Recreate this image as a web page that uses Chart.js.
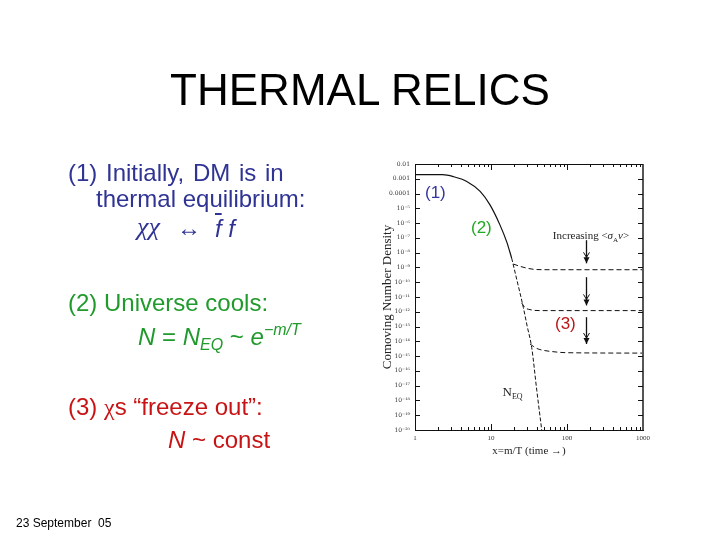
<!DOCTYPE html>
<html>
<head>
<meta charset="utf-8">
<script src="https://cdn.jsdelivr.net/npm/chart.js@4.4.0/dist/chart.umd.min.js"></script>
<style>
    html, body { margin: 0; padding: 0; background: #fff; }
    #slide { position: relative; width: 720px; height: 540px; overflow: hidden; font-family: "Liberation Sans", Arial, sans-serif; }
    #plot { position: absolute; left: 0; top: 0; }
    .t { position: absolute; white-space: nowrap; line-height: 1; }
    .blue { color: #2f3393; }
    .green { color: #1f9a2b; }
    .red { color: #c81414; }
    .sym { font-family: "Liberation Serif", "DejaVu Serif", serif; }
    .lo { position: relative; top: 5px; font-size: 16px; }
    .hi { position: relative; top: -10px; font-size: 16px; }
</style>
</head>
<body>
<div id="slide">
    <canvas id="plot" width="720" height="540"></canvas>

    <div class="t" style="left:0;width:720px;text-align:center;top:68px;font-size:44px;color:#000;">THERMAL RELICS</div>

    <div class="t blue" style="left:68px;top:161px;font-size:24px;word-spacing:2px;">(1) Initially, DM is in</div>
    <div class="t blue" style="left:96px;top:187px;font-size:24px;">thermal equilibrium:</div>
    <div class="t blue sym" style="left:137px;top:214px;font-size:26px;font-style:italic;">&#967;&#967;</div>
    <div class="t blue" style="left:177px;top:216px;font-size:24px;">&#8596;</div>
    <div class="t blue" style="left:215px;top:217px;font-size:24px;font-style:italic;"><span style="text-decoration:overline;">f</span>&nbsp;f</div>

    <div class="t green" style="left:68px;top:291px;font-size:24px;">(2) Universe cools:</div>
    <div class="t green" style="left:138px;top:325px;font-size:24px;"><i>N</i> = <i>N</i><i class="lo">EQ</i> ~ <i>e</i><i class="hi">&#8722;m/T</i></div>

    <div class="t red" style="left:68px;top:395px;font-size:24px;">(3) <span class="sym">&#967;</span>s &#8220;freeze out&#8221;:</div>
    <div class="t red" style="left:168px;top:428px;font-size:24px;"><i>N</i> ~ const</div>

    <div class="t" style="left:16px;top:517px;font-size:12px;color:#000;">23 September&nbsp; 05</div>

    <div class="t" style="left:425px;top:184px;font-size:17px;color:#3535a0;">(1)</div>
    <div class="t" style="left:471px;top:219px;font-size:17px;color:#22aa22;">(2)</div>
    <div class="t" style="left:555px;top:315px;font-size:17px;color:#bb1515;">(3)</div>
</div>
<script>
// equilibrium abundance (solid while in equilibrium, dashed N_EQ afterwards)
const eqX = [1, 2.3, 3.2, 4.8, 7.2, 9.7, 13.1, 16.1, 18.7, 22, 26.6, 30, 34.3, 40, 46.5];
const eqY = [1.9e-3, 1.9e-3, 1.4e-3, 6.6e-4, 1.4e-4, 1.7e-5, 7.6e-7, 5.4e-8, 4.3e-9, 1.3e-10, 2e-12, 1e-13, 3.9e-15, 5e-18, 1e-20];
const freezeIdx = 8;

// freeze-out branches, weakest to strongest <sigma v>
const topX = [19.6, 24, 29.5, 40, 70, 1000];
const topY = [1.7e-9, 1.2e-9, 9e-10, 7.2e-10, 7e-10, 7e-10];
const midX = [25.3, 28, 32.6, 44, 1000];
const midY = [4e-12, 1.9e-12, 1.4e-12, 1.2e-12, 1.2e-12];
const botX = [32.6, 36, 40, 46.4, 60, 100, 1000];
const botY = [6.6e-15, 4.6e-15, 3.3e-15, 2.6e-15, 2.1e-15, 1.7e-15, 1.6e-15];

// axis ticks
const xTicks = [1, 10, 100, 1000];
const yTicks = [1e-2, 1e-3, 1e-4, 1e-5, 1e-6, 1e-7, 1e-8, 1e-9, 1e-10, 1e-11, 1e-12, 1e-13, 1e-14, 1e-15, 1e-16, 1e-17, 1e-18, 1e-19, 1e-20];

// "increasing <sigma v>" arrows
const arrowX = 180;
const arrowTop = [7e-8, 2.2e-10, 4.3e-13];
const arrowBottom = [1.9e-9, 2.7e-12, 6.6e-15];
const sigmaLabelAt = { x: 207, y: 1.5e-7 };
const nEqLabelAt = { x: 14.2, y: 2e-18 };

function pts(xs, ys) {
    return xs.map((x, i) => ({ x: x, y: ys[i] }));
}

const SUP = { '0': '\u2070', '1': '\u00b9', '2': '\u00b2', '3': '\u00b3', '4': '\u2074', '5': '\u2075', '6': '\u2076', '7': '\u2077', '8': '\u2078', '9': '\u2079', '-': '\u207b' };

function yLabel(v) {
    const e = Math.round(Math.log10(v));
    if (e >= -2) return '0.01';
    if (e === -3) return '0.001';
    if (e === -4) return '0.0001';
    return '10' + String(e).split('').map(c => SUP[c]).join('');
}

const lineStyle = {
    borderColor: '#111',
    borderWidth: 1,
    pointRadius: 0,
    fill: false,
    cubicInterpolationMode: 'monotone'
};

const framePlugin = {
    id: 'frame',
    afterDatasetsDraw(chart) {
        const ctx = chart.ctx;
        const a = chart.chartArea;
        const xs = chart.scales.x;
        const ys = chart.scales.y;
        ctx.save();
        ctx.strokeStyle = '#111';
        ctx.lineWidth = 1;
        ctx.beginPath();
        ctx.moveTo(a.left, a.top + 0.5);
        ctx.lineTo(a.right, a.top + 0.5);
        ctx.stroke();
        ctx.strokeStyle = '#555';
        ctx.lineWidth = 2;
        ctx.beginPath();
        ctx.moveTo(a.right, a.top);
        ctx.lineTo(a.right, a.bottom);
        ctx.stroke();

        // inward ticks
        ctx.strokeStyle = '#111';
        ctx.lineWidth = 1;
        ctx.beginPath();
        for (let d = 1; d < 1000; d *= 10) {
            for (let m = 1; m <= 9; m++) {
                const px = Math.round(xs.getPixelForValue(d * m)) + 0.5;
                const len = m === 1 ? 6 : 3;
                ctx.moveTo(px, a.bottom); ctx.lineTo(px, a.bottom - len);
                ctx.moveTo(px, a.top); ctx.lineTo(px, a.top + len);
            }
        }
        yTicks.forEach(v => {
            const py = Math.round(ys.getPixelForValue(v)) + 0.5;
            ctx.moveTo(a.left, py); ctx.lineTo(a.left + 5, py);
            ctx.moveTo(a.right, py); ctx.lineTo(a.right - 5, py);
        });
        ctx.stroke();

        // arrows
        const ax = Math.round(xs.getPixelForValue(arrowX)) + 0.5;
        ctx.fillStyle = '#111';
        arrowTop.forEach((t, i) => {
            const y0 = ys.getPixelForValue(t);
            const y1 = ys.getPixelForValue(arrowBottom[i]);
            ctx.lineWidth = 1.3;
            ctx.beginPath();
            ctx.moveTo(ax, y0); ctx.lineTo(ax, y1);
            ctx.stroke();
            ctx.beginPath();
            ctx.moveTo(ax - 3, y1 - 6); ctx.lineTo(ax, y1); ctx.lineTo(ax + 3, y1 - 6);
            ctx.closePath();
            ctx.fill();
            ctx.lineWidth = 1;
            ctx.beginPath();
            ctx.moveTo(ax - 3, y1 - 11); ctx.lineTo(ax, y1 - 6); ctx.lineTo(ax + 3, y1 - 11);
            ctx.stroke();
        });

        // Increasing <sigma_A v>
        const parts = [
            ['Increasing <', '11px "Liberation Serif", serif', 0],
            ['\u03c3', 'italic 11px "Liberation Serif", serif', 0],
            ['A', '7px "Liberation Serif", serif', 3],
            ['v', 'italic 11px "Liberation Serif", serif', 0],
            ['>', '11px "Liberation Serif", serif', 0]
        ];
        let w = 0;
        parts.forEach(p => { ctx.font = p[1]; w += ctx.measureText(p[0]).width; });
        let tx = xs.getPixelForValue(sigmaLabelAt.x) - w / 2;
        const ty = ys.getPixelForValue(sigmaLabelAt.y) + 4;
        ctx.fillStyle = '#222';
        ctx.textBaseline = 'alphabetic';
        parts.forEach(p => {
            ctx.font = p[1];
            ctx.fillText(p[0], tx, ty + p[2]);
            tx += ctx.measureText(p[0]).width;
        });

        // N_EQ label
        const nx = xs.getPixelForValue(nEqLabelAt.x);
        const ny = ys.getPixelForValue(nEqLabelAt.y);
        ctx.font = '13px "Liberation Serif", serif';
        ctx.fillText('N', nx, ny);
        const nw = ctx.measureText('N').width;
        ctx.font = '8px "Liberation Serif", serif';
        ctx.fillText('EQ', nx + nw, ny + 3);
        ctx.restore();
    }
};

const ctx = document.getElementById('plot').getContext('2d');
new Chart(ctx, {
    type: 'line',
    data: {
        datasets: [
            Object.assign({ data: pts(eqX.slice(0, freezeIdx + 1), eqY.slice(0, freezeIdx + 1)) }, lineStyle, { borderWidth: 1.2 }),
            Object.assign({ data: pts(eqX.slice(freezeIdx), eqY.slice(freezeIdx)), borderDash: [4, 2] }, lineStyle),
            Object.assign({ data: pts(topX, topY), borderDash: [5, 3] }, lineStyle),
            Object.assign({ data: pts(midX, midY), borderDash: [5, 3] }, lineStyle),
            Object.assign({ data: pts(botX, botY), borderDash: [5, 3] }, lineStyle)
        ]
    },
    options: {
        responsive: false,
        animation: false,
        layout: {
            padding: { left: 375, right: 77, top: 164, bottom: 80 }
        },
        plugins: {
            legend: { display: false },
            tooltip: { enabled: false }
        },
        scales: {
            x: {
                type: 'logarithmic',
                min: 1,
                max: 1000,
                grid: { display: false, drawTicks: false },
                border: { display: true, color: '#111', width: 1 },
                afterBuildTicks: function(scale) {
                    scale.ticks = xTicks.map(v => ({ value: v }));
                },
                afterFit: function(scale) {
                    scale.height = 30;
                },
                ticks: {
                    autoSkip: false,
                    maxRotation: 0,
                    padding: 4,
                    color: '#333',
                    font: { family: '"Liberation Serif", serif', size: 7 },
                    callback: function(value) {
                        return String(value);
                    }
                },
                title: {
                    display: true,
                    text: 'x=m/T (time \u2192)',
                    color: '#222',
                    font: { family: '"Liberation Serif", serif', size: 11 },
                    padding: { top: 0, bottom: 2 }
                }
            },
            y: {
                type: 'logarithmic',
                min: 1e-20,
                max: 1e-2,
                grid: { display: false, drawTicks: false },
                border: { display: true, color: '#111', width: 1 },
                afterBuildTicks: function(scale) {
                    scale.ticks = yTicks.map(v => ({ value: v }));
                },
                afterFit: function(scale) {
                    scale.width = 40;
                },
                ticks: {
                    autoSkip: false,
                    padding: 5,
                    color: '#333',
                    font: { family: '"DejaVu Serif", serif', size: 6 },
                    callback: function(value) {
                        return yLabel(value);
                    }
                },
                title: {
                    display: true,
                    text: 'Comoving Number Density',
                    color: '#222',
                    font: { family: '"Liberation Serif", serif', size: 13 },
                    padding: { top: 5, bottom: 0 }
                }
            }
        }
    },
    plugins: [framePlugin]
});
</script>
</body>
</html>
